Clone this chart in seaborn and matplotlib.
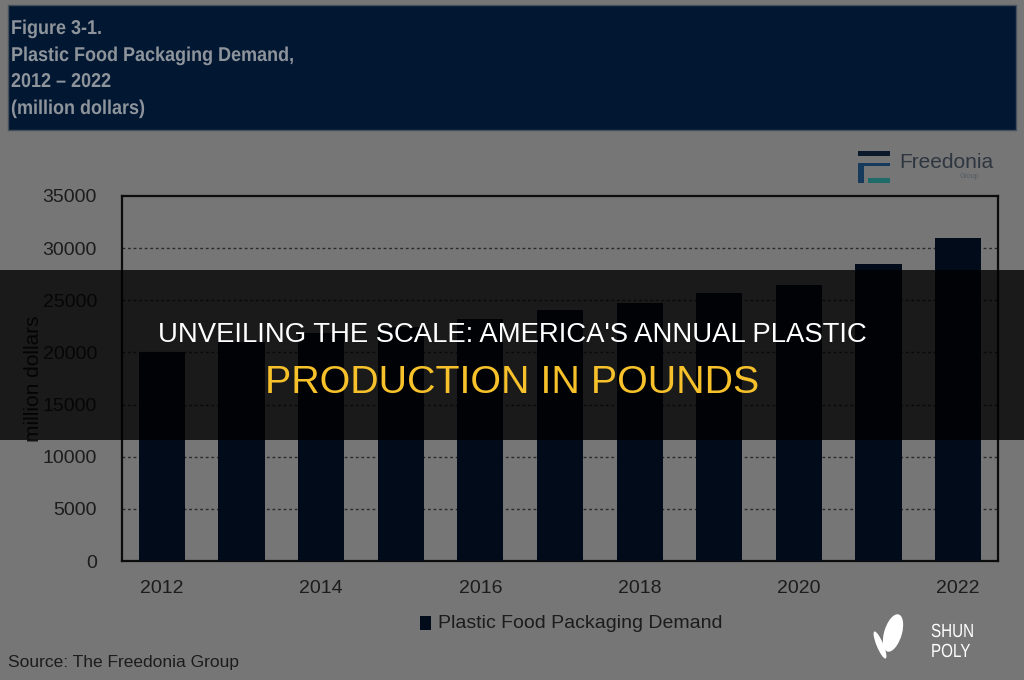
import matplotlib
matplotlib.use('Agg')
import matplotlib.pyplot as plt
import matplotlib.patches as mpatches
from matplotlib.textpath import TextPath
from matplotlib.font_manager import FontProperties
from matplotlib.transforms import Affine2D, IdentityTransform
import seaborn as sns
import pandas as pd

years = [2012, 2013, 2014, 2015, 2016, 2017, 2018, 2019, 2020, 2021, 2022]
demand = [20000, 21000, 21900, 22400, 23200, 24100, 24700, 25700, 26500, 28500, 31000]
tick_years = ['2012', '', '2014', '', '2016', '', '2018', '', '2020', '', '2022']
y_ticks = [0, 5000, 10000, 15000, 20000, 25000, 30000, 35000]
banner_lines = ['Figure 3-1.', 'Plastic Food Packaging Demand,', '2012 \u2013 2022', '(million dollars)']
headline = "UNVEILING THE SCALE: AMERICA'S ANNUAL PLASTIC"
headline2 = 'PRODUCTION IN POUNDS'

sns.set_style('white')
plt.rcParams['font.family'] = ['Liberation Sans', 'DejaVu Sans']

df = pd.DataFrame({'year': [str(y) for y in years], 'demand': demand})

bg = '#767676'
W, H = 1024, 680
fig = plt.figure(figsize=(10.24, 6.8), dpi=100, facecolor=bg)


def box(x, y, w, h, color, **kw):
    # x, y = top-left corner in pixels from top-left
    fig.patches.append(mpatches.Rectangle((x / W, 1 - (y + h) / H), w / W, h / H,
                                          transform=fig.transFigure, facecolor=color,
                                          edgecolor='none', lw=0, **kw))


def narrow_text(x, base, s, size_px, color, sx=0.85, weight='normal'):
    # squeezed text, drawn as a path so it looks like the condensed original
    fp = FontProperties(family='Liberation Sans', weight=weight)
    tp = TextPath((0, 0), s, size=size_px, prop=fp)
    path = Affine2D().scale(sx, 1).translate(x, H - base).transform_path(tp)
    fig.patches.append(mpatches.PathPatch(path, transform=IdentityTransform(), facecolor=color,
                                          edgecolor='none', lw=0))


# banner at the top
fig.patches.append(mpatches.Rectangle((8 / W, 1 - 130 / H), 1008 / W, 125 / H,
                                      transform=fig.transFigure, facecolor='#021731',
                                      edgecolor='#44505c', lw=1))
for line, base in zip(banner_lines, [34, 61, 87, 114]):
    narrow_text(11, base, line, 20, '#8e949b', sx=0.9, weight='bold')

ax = fig.add_axes([122 / W, 1 - 561 / H, 876 / W, 365 / H])
ax.set_facecolor(bg)
sns.barplot(data=df, x='year', y='demand', color='#010b1a', width=0.58, saturation=1,
            linewidth=0, edgecolor='none', ax=ax, zorder=3)
ax.set_ylim(0, 35000)
ax.set_xlim(-0.5, len(years) - 0.5)
ax.set_yticks(y_ticks)
ax.set_yticklabels([str(v) for v in y_ticks])
ax.set_xticks(range(len(years)))
ax.set_xticklabels(tick_years)
ax.tick_params(axis='both', length=0, labelsize=14, colors='#1c1c1c')
ax.tick_params(axis='x', pad=14)
ax.tick_params(axis='y', pad=18)
for v in y_ticks[1:-1]:
    ax.axhline(v, color='#2a2a2a', lw=1, ls=(0, (2, 2)), zorder=1)
for s in ax.spines.values():
    s.set_color('#0c0c0c')
    s.set_linewidth(1.6)
ax.set_xlabel('')
ax.set_ylabel('million dollars', fontsize=15, color='#141414', labelpad=0)

# legend
box(420, 616, 11, 14, '#010b1a', zorder=5)
fig.text(438 / W, 1 - 623 / H, 'Plastic Food Packaging Demand', fontsize=14, color='#1c1c1c',
         va='center', ha='left')
fig.text(8 / W, 1 - 663 / H, 'Source: The Freedonia Group', fontsize=12.5, color='#1c1c1c',
         va='center', ha='left')

# Freedonia logo
box(858, 151, 32, 5, '#0b1a2a')
box(858, 163, 6, 20, '#163a5c')
box(858, 163, 32, 3, '#163a5c')
box(868, 178, 22, 5, '#1f6b6a')
fig.text(899 / W, 1 - 163 / H, 'Freedonia', fontsize=15, color='#2e3640', va='center', ha='left')
fig.text(960 / W, 1 - 176 / H, 'Group', fontsize=5, color='#555b60', va='center', ha='left')

# dark band with headline
box(0, 270, W, 170, 'black', alpha=0.78, zorder=10)
fig.text(0.5, 1 - 335 / H, headline, fontsize=19.8, color='white', ha='center', va='center', zorder=11)
fig.text(0.5, 1 - 383 / H, headline2, fontsize=28.4, color='#f6c12a', ha='center', va='center', zorder=11)

# SHUN POLY mark
fig.patches.append(mpatches.Ellipse((893 / W, 1 - 633 / H), 18 / W, 38 / H, transform=fig.transFigure,
                                    facecolor='white', edgecolor='none', angle=-10, zorder=5))
fig.patches.append(mpatches.Ellipse((880 / W, 1 - 645 / H), 7 / W, 28 / H, transform=fig.transFigure,
                                    facecolor='white', edgecolor='none', angle=15, zorder=5))
narrow_text(931, 637, 'SHUN', 19, 'white', sx=0.8)
narrow_text(931, 657, 'POLY', 19, 'white', sx=0.8)

fig.savefig('out.png', dpi=100, facecolor=bg)
